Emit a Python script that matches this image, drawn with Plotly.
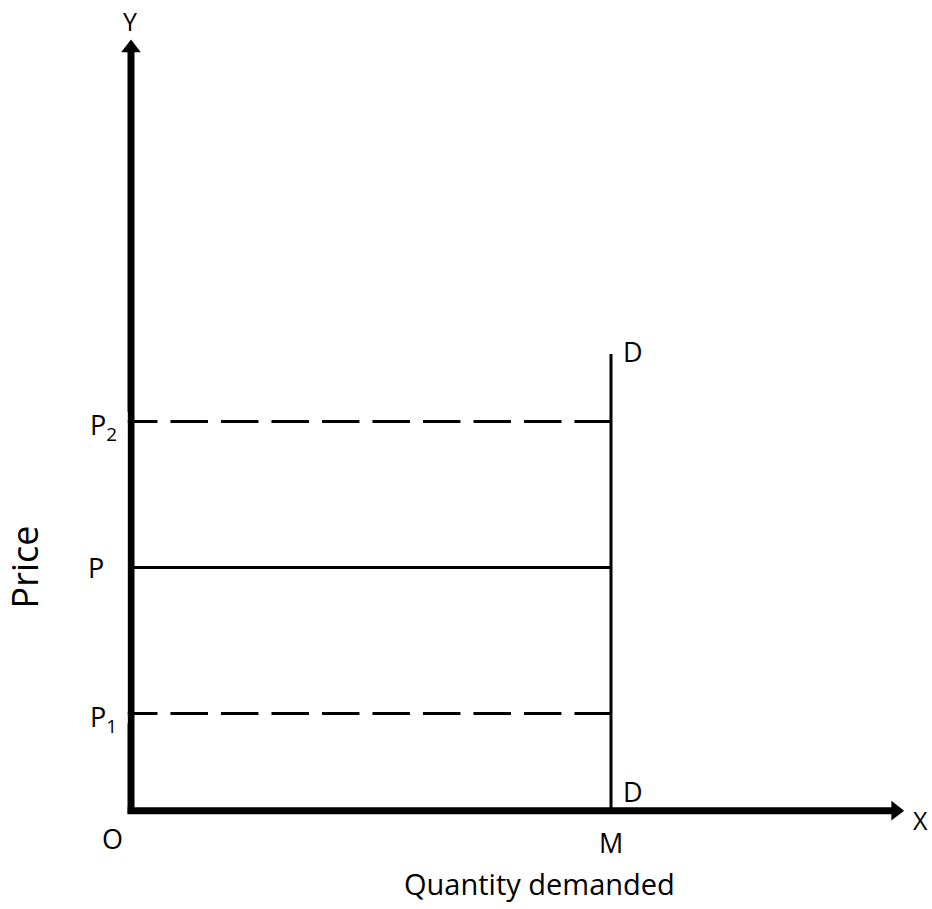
import plotly.graph_objects as go

# ---- data (model units) ----
price_levels = [2, 5, 8]                  # P1, P, P2
price_labels = ["P<sub>1</sub>", "P", "P<sub>2</sub>"]
price_dashes = ["dash", "solid", "dash"]
quantity_M = 10                           # fixed quantity demanded
demand_top = 9.39                         # top of vertical demand curve D
x_axis_end = 16.1                         # arrow tip of X axis
y_axis_end = 15.85                        # arrow tip of Y axis
axis_names = ["X", "Y"]
origin_label = "O"
quantity_label = "M"
demand_label = "D"
x_title = "Quantity demanded"
y_title = "Price"

# ---- style ----
FONT = "Open Sans, Noto Sans, sans-serif"
W, H = 932, 909
DASH_PHASE = -0.23        # dashed lines start hidden under the Y axis so the pattern phase matches

fig = go.Figure()

# price lines from the Y axis to the demand curve
for p, dsh in zip(price_levels, price_dashes):
    start = DASH_PHASE if dsh == "dash" else 0
    fig.add_trace(go.Scatter(x=[start, quantity_M], y=[p, p], mode="lines",
                             line=dict(color="black", width=3,
                                       dash="37.5px,13px" if dsh == "dash" else "solid"),
                             hoverinfo="skip", showlegend=False))

# vertical demand curve D
fig.add_trace(go.Scatter(x=[quantity_M, quantity_M], y=[0, demand_top], mode="lines",
                         line=dict(color="black", width=3), hoverinfo="skip", showlegend=False))

# axes (thick lines, drawn over the dashed-line starts)
fig.add_trace(go.Scatter(x=[-0.07, x_axis_end - 0.2], y=[0, 0], mode="lines",
                         line=dict(color="black", width=7), hoverinfo="skip", showlegend=False))
fig.add_trace(go.Scatter(x=[0, 0], y=[-0.07, y_axis_end - 0.2], mode="lines",
                         line=dict(color="black", width=7), hoverinfo="skip", showlegend=False))
# white mask left of the Y axis so dashed-line phase offsets stay hidden
fig.add_trace(go.Scatter(x=[DASH_PHASE - 0.05, -0.07, -0.07, DASH_PHASE - 0.05],
                         y=[price_levels[0] - 0.2, price_levels[0] - 0.2,
                            price_levels[-1] + 0.2, price_levels[-1] + 0.2],
                         fill="toself", fillcolor="white", mode="none",
                         hoverinfo="skip", showlegend=False))
# arrowheads
fig.add_trace(go.Scatter(x=[x_axis_end - 0.17], y=[0], mode="markers",
                         marker=dict(symbol="triangle-right", size=17, color="black"),
                         hoverinfo="skip", showlegend=False))
fig.add_trace(go.Scatter(x=[0], y=[y_axis_end - 0.17], mode="markers",
                         marker=dict(symbol="triangle-up", size=17, color="black"),
                         hoverinfo="skip", showlegend=False))

ann = []
tf = dict(family=FONT, size=27, color="black")
for p, lab in zip(price_levels, price_labels):
    xs, ys = (-25, 0) if lab == "P" else (-12, -5)
    ann.append(dict(x=0, y=p, xref="x", yref="y", text=lab, showarrow=False,
                    xanchor="right", xshift=xs, yshift=ys, font=tf))
ann.append(dict(x=0, y=0, xref="x", yref="y", text=origin_label, showarrow=False,
                xanchor="center", xshift=-19, yshift=-28, font=tf))
ann.append(dict(x=quantity_M, y=0, xref="x", yref="y", text=quantity_label, showarrow=False,
                xanchor="center", yshift=-32, font=tf))
ann.append(dict(x=quantity_M, y=demand_top, xref="x", yref="y", text=demand_label, showarrow=False,
                xanchor="left", xshift=10, yshift=2, font=tf))
ann.append(dict(x=quantity_M, y=0, xref="x", yref="y", text=demand_label, showarrow=False,
                xanchor="left", xshift=10, yshift=19, font=tf))
ann.append(dict(x=x_axis_end, y=0, xref="x", yref="y", text=axis_names[0], showarrow=False,
                xanchor="left", xshift=7, yshift=-9, font=dict(family=FONT, size=25, color="black")))
ann.append(dict(x=0, y=y_axis_end, xref="x", yref="y", text=axis_names[1], showarrow=False,
                xanchor="center", xshift=-1, yshift=19, font=dict(family=FONT, size=25, color="black")))
ann.append(dict(x=quantity_M * 0.85, y=0, xref="x", yref="y", text=x_title, showarrow=False,
                xanchor="center", yshift=-73, font=dict(family=FONT, size=29, color="black")))
ann.append(dict(x=0, y=price_levels[1], xref="x", yref="y", text=y_title, showarrow=False,
                textangle=-90, xanchor="center", xshift=-107, font=dict(family=FONT, size=36, color="black")))

# geometry: 48 px per x-unit, ~48.67 px per y-unit
ppx, ppy = 48.0, 48.67
x0_px, y0_px = 131, 811
xr = [-0.5, 16.5]
yr = [-0.5, 16.4]
left = x0_px + xr[0] * ppx
right = W - (x0_px + xr[1] * ppx)
bottom = H - (y0_px - yr[0] * ppy)
top = y0_px - yr[1] * ppy
fig.update_layout(
    width=W, height=H,
    margin=dict(l=left, r=right, t=top, b=bottom, pad=0, autoexpand=False),
    paper_bgcolor="white", plot_bgcolor="white",
    xaxis=dict(range=xr, visible=False, fixedrange=True),
    yaxis=dict(range=yr, visible=False, fixedrange=True),
    annotations=ann, showlegend=False,
)
fig.write_html("out.html", config={"displayModeBar": False},
               post_script="document.body.style.margin='0';document.body.style.overflow='hidden';")
